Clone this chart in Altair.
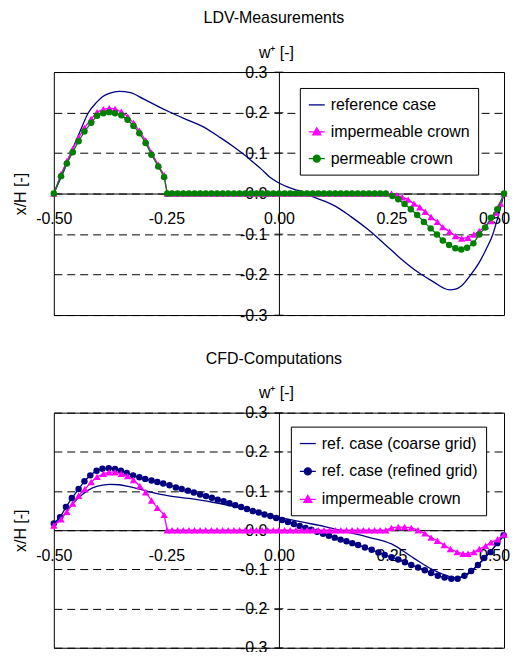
import altair as alt
import pandas as pd

FONT = "Liberation Sans"
NAVY = "#000080"
MAGENTA = "#FF00FF"
GREEN = "#008000"

W = 452
H_TOP = 244
H_BOT = 236

x_ticks = [-0.5, -0.25, 0.0, 0.25, 0.5]
y_ticks = [-0.3, -0.2, -0.1, 0.0, 0.1, 0.2, 0.3]
tick_x = [0.0, 0.0, 0.0, 0.0, 0.0, 0.0, 0.0]

# ---------------- LDV-Measurements ----------------
top_names = ["reference case", "impermeable crown", "permeable crown"]

ref_x = [-0.5, -0.48, -0.462, -0.443, -0.423, -0.405, -0.392, -0.375, -0.355, -0.33,
         -0.3, -0.27, -0.244, -0.21, -0.17, -0.13, -0.1, -0.082, -0.06, -0.038,
         -0.02, 0.0, 0.02, 0.036, 0.055, 0.073, 0.1, 0.125, 0.16, 0.198,
         0.235, 0.272, 0.31, 0.346, 0.365, 0.379, 0.392, 0.405, 0.427, 0.445,
         0.46, 0.475, 0.486, 0.5]
ref_y = [0.0, 0.05, 0.1, 0.15, 0.2, 0.225, 0.239, 0.248, 0.252, 0.249,
         0.233, 0.216, 0.202, 0.185, 0.166, 0.138, 0.115, 0.1, 0.08, 0.059,
         0.04, 0.026, 0.016, 0.01, 0.003, -0.007, -0.018, -0.031, -0.057, -0.089,
         -0.125, -0.162, -0.195, -0.22, -0.233, -0.238, -0.236, -0.228, -0.199, -0.17,
         -0.138, -0.101, -0.06, 0.0]

hump_x = [-0.5, -0.484, -0.471, -0.458, -0.445, -0.432, -0.417, -0.404, -0.39, -0.377,
          -0.364, -0.35, -0.336, -0.323, -0.31, -0.296, -0.283, -0.268, -0.255, -0.248]
flat_x = [-0.2375, -0.225, -0.2125, -0.2, -0.1875, -0.175, -0.1625, -0.15, -0.1375, -0.125,
          -0.1125, -0.1, -0.0875, -0.075, -0.0625, -0.05, -0.0375, -0.025, -0.0125, 0.0,
          0.0125, 0.025, 0.0375, 0.05, 0.0625, 0.075, 0.0875, 0.1, 0.1125, 0.125,
          0.1375, 0.15, 0.1625, 0.175, 0.1875, 0.2, 0.2125, 0.225, 0.2375]
flat_y = [0.0, 0.0, 0.0, 0.0, 0.0, 0.0, 0.0, 0.0, 0.0, 0.0,
          0.0, 0.0, 0.0, 0.0, 0.0, 0.0, 0.0, 0.0, 0.0, 0.0,
          0.0, 0.0, 0.0, 0.0, 0.0, 0.0, 0.0, 0.0, 0.0, 0.0,
          0.0, 0.0, 0.0, 0.0, 0.0, 0.0, 0.0, 0.0, 0.0]

perm_hump_y = [0.0, 0.043, 0.074, 0.102, 0.129, 0.153, 0.175, 0.192, 0.198, 0.201,
               0.198, 0.193, 0.182, 0.167, 0.149, 0.125, 0.096, 0.067, 0.041, 0.0]
perm_dip_x = [0.252, 0.265, 0.279, 0.293, 0.307, 0.322, 0.337, 0.351, 0.364, 0.378,
              0.392, 0.405, 0.418, 0.432, 0.445, 0.458, 0.471, 0.485, 0.5]
perm_dip_y = [-0.006, -0.014, -0.026, -0.039, -0.053, -0.07, -0.086, -0.101, -0.116, -0.127,
              -0.135, -0.138, -0.134, -0.123, -0.101, -0.084, -0.06, -0.039, 0.0]

imp_hump_y = [0.0, 0.048, 0.08, 0.11, 0.138, 0.162, 0.184, 0.201, 0.208, 0.211,
              0.209, 0.202, 0.19, 0.174, 0.155, 0.131, 0.101, 0.071, 0.045, 0.0]
imp_dip_x = [0.25, 0.262, 0.274, 0.287, 0.3, 0.313, 0.325, 0.338, 0.352, 0.364,
             0.379, 0.392, 0.406, 0.42, 0.433, 0.445, 0.459, 0.471, 0.482, 0.492, 0.5]
imp_dip_y = [0.0, -0.004, -0.009, -0.015, -0.025, -0.034, -0.045, -0.058, -0.07, -0.083,
             -0.094, -0.105, -0.111, -0.109, -0.101, -0.093, -0.08, -0.068, -0.047, -0.025, 0.0]

# ---------------- CFD-Computations ----------------
bot_names = ["ref. case (coarse grid)", "ref. case (refined grid)", "impermeable crown"]

coarse_x = [-0.5, -0.48, -0.458, -0.436, -0.414, -0.392, -0.375, -0.355, -0.335, -0.31,
            -0.28, -0.25, -0.2, -0.15, -0.1, -0.05, 0.0, 0.05, 0.1, 0.15,
            0.2, 0.25, 0.3, 0.34, 0.368, 0.39, 0.41, 0.43, 0.45, 0.475, 0.5]
coarse_y = [0.012, 0.035, 0.068, 0.092, 0.108, 0.115, 0.117, 0.116, 0.112, 0.105,
            0.096, 0.089, 0.081, 0.072, 0.061, 0.046, 0.033, 0.021, 0.01, -0.004,
            -0.018, -0.035, -0.072, -0.1, -0.114, -0.121, -0.119, -0.102, -0.08, -0.047, -0.013]

refined_x = [-0.5, -0.486, -0.473, -0.46, -0.445, -0.432, -0.419, -0.405, -0.392, -0.378,
             -0.364, -0.351, -0.338, -0.324, -0.31, -0.297, -0.283, -0.27, -0.257, -0.243,
             -0.229, -0.216, -0.202, -0.189, -0.175, -0.162, -0.149, -0.136, -0.123, -0.11,
             -0.097, -0.084, -0.071, -0.058, -0.045, -0.032, -0.019, -0.006, 0.007, 0.02,
             0.033, 0.046, 0.059, 0.072, 0.085, 0.098, 0.111, 0.124, 0.137, 0.15,
             0.163, 0.176, 0.191, 0.206, 0.221, 0.235, 0.25, 0.265, 0.28, 0.294,
             0.309, 0.324, 0.338, 0.353, 0.368, 0.383, 0.397, 0.412, 0.427, 0.442,
             0.456, 0.47, 0.485, 0.499]
refined_y = [0.017, 0.033, 0.059, 0.082, 0.105, 0.125, 0.14, 0.152, 0.157, 0.158,
             0.156, 0.152, 0.146, 0.14, 0.135, 0.131, 0.127, 0.123, 0.119, 0.115,
             0.109, 0.105, 0.101, 0.096, 0.091, 0.087, 0.083, 0.078, 0.074, 0.069,
             0.064, 0.059, 0.054, 0.049, 0.045, 0.04, 0.036, 0.031, 0.026, 0.021,
             0.016, 0.011, 0.006, 0.001, -0.004, -0.009, -0.014, -0.019, -0.024, -0.028,
             -0.033, -0.038, -0.044, -0.05, -0.057, -0.063, -0.069, -0.075, -0.082, -0.089,
             -0.095, -0.102, -0.109, -0.116, -0.121, -0.124, -0.124, -0.116, -0.104, -0.089,
             -0.071, -0.056, -0.033, -0.013]

imp2_hump_x = [-0.5, -0.484, -0.471, -0.458, -0.445, -0.431, -0.417, -0.404, -0.39, -0.377,
               -0.364, -0.35, -0.336, -0.323, -0.309, -0.296, -0.283, -0.27, -0.255, -0.248]
imp2_hump_y = [0.012, 0.028, 0.047, 0.068, 0.088, 0.105, 0.123, 0.136, 0.144, 0.148,
               0.148, 0.144, 0.138, 0.128, 0.113, 0.097, 0.076, 0.057, 0.039, 0.0]
imp2_dip_x = [0.25, 0.265, 0.279, 0.294, 0.309, 0.324, 0.338, 0.352, 0.367, 0.381,
              0.396, 0.409, 0.42, 0.433, 0.445, 0.459, 0.471, 0.486, 0.5]
imp2_dip_y = [0.006, 0.008, 0.008, 0.006, 0.0, -0.008, -0.019, -0.027, -0.038, -0.048,
              -0.056, -0.06, -0.06, -0.056, -0.048, -0.04, -0.031, -0.023, -0.011]

# legend symbols: short line + marker
SYM_LINE = "M-1,0L1,0"
SYM_TRI = "M-1,0L1,0M0,-0.5L0.5,0.38L-0.5,0.38Z"
SYM_CIRC = "M-1,0L1,0M-0.44,0A0.44,0.44,0,1,1,0.44,0A0.44,0.44,0,1,1,-0.44,0Z"


def frame(xs, ys):
    assert len(xs) == len(ys), (len(xs), len(ys))
    return pd.DataFrame({"x": xs, "y": ys})


def enc_x(h):
    return alt.X(
        "x:Q",
        scale=alt.Scale(domain=[-0.5, 0.5], nice=False, zero=False),
        axis=alt.Axis(
            values=x_ticks, orient="bottom", offset=-h / 2, grid=False,
            ticks=False, tickSize=0, labelPadding=17, labelFlush=False,
            labelOffset={"condition": {"test": "datum.value > 0.4", "value": -10}, "value": 0},
            labelExpr="replace(format(datum.value, '.2f'), '\u2212', '-')",
            title="x/H [-]", titleAngle=270, titleX=-33, titleY=0,
            titleAlign="center", titleBaseline="middle",
        ),
    )


def enc_y():
    return alt.Y(
        "y:Q",
        scale=alt.Scale(domain=[-0.3, 0.3], nice=False, zero=False),
        axis=alt.Axis(
            values=y_ticks, orient="left", offset=-W / 2, grid=True,
            ticks=False, tickSize=0, labelPadding=12, labelFlush=False,
            labelExpr="replace(format(datum.value, '.1f'), '\u2212', '-')",
            title="w\u207a [-]", titleAngle=0, titleX=-3, titleY=-15,
            titleAlign="center", titleBaseline="alphabetic",
        ),
    )


def line_layer(d, h, color, interp="linear"):
    return alt.Chart(d).mark_line(color=color, strokeWidth=1.3, interpolate=interp).encode(
        x=enc_x(h), y=enc_y())


def point_layer(d, h, color, shape, size):
    return alt.Chart(d).mark_point(filled=True, opacity=1, color=color, shape=shape,
                                   size=size).encode(x=enc_x(h), y=enc_y())


def tick_layer(h):
    d = frame(tick_x, y_ticks)
    return alt.Chart(d).mark_tick(color="black", orient="horizontal", size=9,
                                  thickness=1).encode(x=enc_x(h), y=enc_y())


def legend_layer(names, colors, paths, lx, ly, row_pad):
    d = pd.DataFrame({"series": names})
    leg = alt.Legend(
        orient="none", legendX=lx, legendY=ly, title=None,
        strokeColor="black", fillColor="white", padding=8,
        labelFont=FONT, labelFontSize=16, labelColor="black", labelOffset=5,
        symbolSize=256, symbolStrokeWidth=1.3, symbolOpacity=1, rowPadding=row_pad,
    )
    return alt.Chart(d).mark_point(filled=True, opacity=0).encode(
        fill=alt.Fill("series:N", scale=alt.Scale(domain=names, range=colors), legend=leg),
        stroke=alt.Stroke("series:N", scale=alt.Scale(domain=names, range=colors), legend=leg),
        shape=alt.Shape("series:N", scale=alt.Scale(domain=names, range=paths), legend=leg),
    )


def title(text):
    return alt.TitleParams(text, font=FONT, fontSize=16, fontWeight="normal", color="black",
                           anchor="middle", frame="group", dx=-5, offset=18)


# top panel
perm_df = frame(hump_x + flat_x + perm_dip_x, perm_hump_y + flat_y + perm_dip_y)
imp_df = frame(hump_x + flat_x + imp_dip_x, imp_hump_y + flat_y + imp_dip_y)
ref_df = frame(ref_x, ref_y)

top = alt.layer(
    tick_layer(H_TOP),
    line_layer(ref_df, H_TOP, NAVY, "monotone"),
    line_layer(imp_df, H_TOP, MAGENTA), point_layer(imp_df, H_TOP, MAGENTA, "triangle-up", 55),
    line_layer(perm_df, H_TOP, GREEN), point_layer(perm_df, H_TOP, GREEN, "circle", 42),
    legend_layer(top_names, [NAVY, MAGENTA, GREEN], [SYM_LINE, SYM_TRI, SYM_CIRC], 247, 16, 10),
).properties(width=W, height=H_TOP, title=title("LDV-Measurements"))

# bottom panel
coarse_df = frame(coarse_x, coarse_y)
refined_df = frame(refined_x, refined_y)
imp2_df = frame(imp2_hump_x + flat_x + imp2_dip_x, imp2_hump_y + flat_y + imp2_dip_y)

bottom = alt.layer(
    tick_layer(H_BOT),
    line_layer(coarse_df, H_BOT, NAVY, "monotone"),
    line_layer(refined_df, H_BOT, NAVY), point_layer(refined_df, H_BOT, NAVY, "circle", 42),
    line_layer(imp2_df, H_BOT, MAGENTA), point_layer(imp2_df, H_BOT, MAGENTA, "triangle-up", 55),
    legend_layer(bot_names, [NAVY, NAVY, MAGENTA], [SYM_LINE, SYM_CIRC, SYM_TRI], 238, 14, 11),
).properties(width=W, height=H_BOT, title=title("CFD-Computations"))

chart = alt.vconcat(top, bottom, spacing=26).resolve_scale(
    fill="independent", stroke="independent", shape="independent"
).properties(
    padding={"left": 4, "top": 0, "right": 0, "bottom": -6}
).configure(font=FONT).configure_view(
    stroke="black", strokeWidth=1
).configure_axis(
    labelFont=FONT, labelFontSize=16, labelColor="black",
    titleFont=FONT, titleFontSize=16, titleFontWeight="normal", titleColor="black",
    domainColor="black", domainWidth=1, gridColor="black", gridDash=[8, 5], gridWidth=1,
)

chart.save("out.html", embed_options={"renderer": "svg", "actions": False})
